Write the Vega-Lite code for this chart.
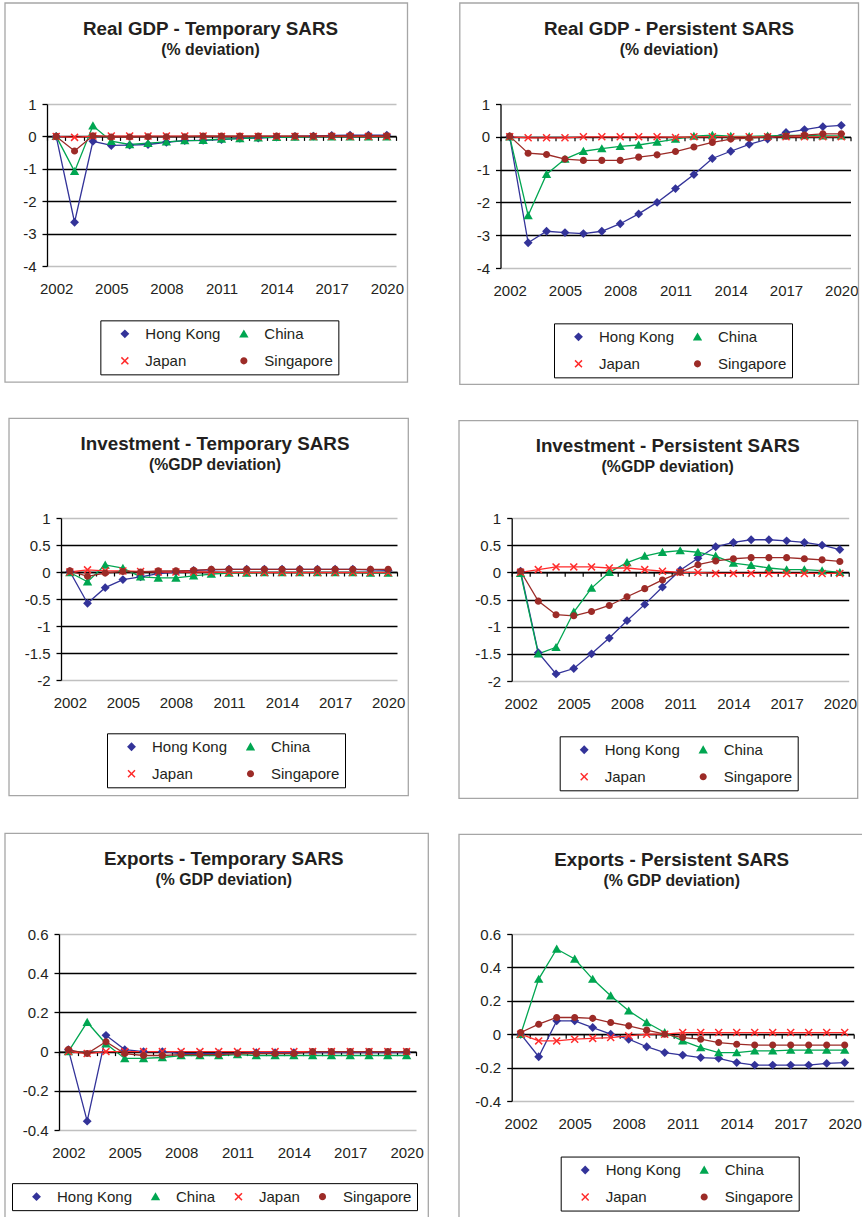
{
"$schema": "https://vega.github.io/schema/vega-lite/v6.json",
"background": "white",
"padding": {"left": 0, "top": 2, "right": 0, "bottom": 0},
"autosize": {"type": "pad"},
"config": {
  "view": {"stroke": null},
  "axis": {"labelFont": "Liberation Sans", "labelFontSize": 15, "labelColor": "#231f20"},
  "legend": {"symbolSize": 97, "symbolOffset": 12, "labelOffset": 13, "clipHeight": 17, "rowPadding": 10, "columnPadding": 3, "padding": 5, "labelFontSize": 15, "labelFont": "Liberation Sans", "labelColor": "#231f20", "strokeColor": "#000", "symbolOpacity": 1, "symbolStrokeWidth": 0, "direction": "horizontal"},
  "title": {"font": "Liberation Sans", "fontSize": 18.8, "fontWeight": "bold", "color": "#231f20", "subtitleFont": "Liberation Sans", "subtitleFontSize": 15.8, "subtitleFontWeight": "bold", "subtitleColor": "#231f20", "subtitlePadding": 4, "anchor": "middle", "frame": "group", "offset": -55}
},
"datasets": {
"gdpT": [
{"year":2002,"country":"Hong Kong","value":0},{"year":2003,"country":"Hong Kong","value":-2.65},{"year":2004,"country":"Hong Kong","value":-0.15},{"year":2005,"country":"Hong Kong","value":-0.28},{"year":2006,"country":"Hong Kong","value":-0.27},{"year":2007,"country":"Hong Kong","value":-0.25},{"year":2008,"country":"Hong Kong","value":-0.18},{"year":2009,"country":"Hong Kong","value":-0.13},{"year":2010,"country":"Hong Kong","value":-0.12},{"year":2011,"country":"Hong Kong","value":-0.1},{"year":2012,"country":"Hong Kong","value":-0.06},{"year":2013,"country":"Hong Kong","value":-0.05},{"year":2014,"country":"Hong Kong","value":-0.02},{"year":2015,"country":"Hong Kong","value":0},{"year":2016,"country":"Hong Kong","value":0.01},{"year":2017,"country":"Hong Kong","value":0.03},{"year":2018,"country":"Hong Kong","value":0.04},{"year":2019,"country":"Hong Kong","value":0.04},{"year":2020,"country":"Hong Kong","value":0.04},
{"year":2002,"country":"China","value":0},{"year":2003,"country":"China","value":-1.08},{"year":2004,"country":"China","value":0.33},{"year":2005,"country":"China","value":-0.15},{"year":2006,"country":"China","value":-0.25},{"year":2007,"country":"China","value":-0.21},{"year":2008,"country":"China","value":-0.17},{"year":2009,"country":"China","value":-0.13},{"year":2010,"country":"China","value":-0.12},{"year":2011,"country":"China","value":-0.08},{"year":2012,"country":"China","value":-0.07},{"year":2013,"country":"China","value":-0.04},{"year":2014,"country":"China","value":-0.03},{"year":2015,"country":"China","value":-0.02},{"year":2016,"country":"China","value":-0.01},{"year":2017,"country":"China","value":-0.01},{"year":2018,"country":"China","value":-0.01},{"year":2019,"country":"China","value":-0.01},{"year":2020,"country":"China","value":-0.01},
{"year":2002,"country":"Japan","value":0},{"year":2003,"country":"Japan","value":-0.03},{"year":2004,"country":"Japan","value":0.01},{"year":2005,"country":"Japan","value":0.01},{"year":2006,"country":"Japan","value":0.01},{"year":2007,"country":"Japan","value":0.01},{"year":2008,"country":"Japan","value":0.01},{"year":2009,"country":"Japan","value":0.01},{"year":2010,"country":"Japan","value":0.01},{"year":2011,"country":"Japan","value":0},{"year":2012,"country":"Japan","value":0},{"year":2013,"country":"Japan","value":0},{"year":2014,"country":"Japan","value":0},{"year":2015,"country":"Japan","value":0},{"year":2016,"country":"Japan","value":0},{"year":2017,"country":"Japan","value":0},{"year":2018,"country":"Japan","value":0},{"year":2019,"country":"Japan","value":0},{"year":2020,"country":"Japan","value":0},
{"year":2002,"country":"Singapore","value":0},{"year":2003,"country":"Singapore","value":-0.45},{"year":2004,"country":"Singapore","value":0.02},{"year":2005,"country":"Singapore","value":-0.02},{"year":2006,"country":"Singapore","value":-0.02},{"year":2007,"country":"Singapore","value":-0.01},{"year":2008,"country":"Singapore","value":-0.01},{"year":2009,"country":"Singapore","value":-0.01},{"year":2010,"country":"Singapore","value":0.01},{"year":2011,"country":"Singapore","value":0.01},{"year":2012,"country":"Singapore","value":0.01},{"year":2013,"country":"Singapore","value":0.01},{"year":2014,"country":"Singapore","value":0.01},{"year":2015,"country":"Singapore","value":0.01},{"year":2016,"country":"Singapore","value":0.01},{"year":2017,"country":"Singapore","value":0.02},{"year":2018,"country":"Singapore","value":0.02},{"year":2019,"country":"Singapore","value":0.02},{"year":2020,"country":"Singapore","value":0.02}
],
"gdpP": [
{"year":2002,"country":"Hong Kong","value":0},{"year":2003,"country":"Hong Kong","value":-3.23},{"year":2004,"country":"Hong Kong","value":-2.88},{"year":2005,"country":"Hong Kong","value":-2.92},{"year":2006,"country":"Hong Kong","value":-2.95},{"year":2007,"country":"Hong Kong","value":-2.88},{"year":2008,"country":"Hong Kong","value":-2.65},{"year":2009,"country":"Hong Kong","value":-2.35},{"year":2010,"country":"Hong Kong","value":-2.0},{"year":2011,"country":"Hong Kong","value":-1.58},{"year":2012,"country":"Hong Kong","value":-1.15},{"year":2013,"country":"Hong Kong","value":-0.66},{"year":2014,"country":"Hong Kong","value":-0.44},{"year":2015,"country":"Hong Kong","value":-0.23},{"year":2016,"country":"Hong Kong","value":-0.07},{"year":2017,"country":"Hong Kong","value":0.13},{"year":2018,"country":"Hong Kong","value":0.22},{"year":2019,"country":"Hong Kong","value":0.31},{"year":2020,"country":"Hong Kong","value":0.35},
{"year":2002,"country":"China","value":0},{"year":2003,"country":"China","value":-2.4},{"year":2004,"country":"China","value":-1.14},{"year":2005,"country":"China","value":-0.68},{"year":2006,"country":"China","value":-0.44},{"year":2007,"country":"China","value":-0.36},{"year":2008,"country":"China","value":-0.29},{"year":2009,"country":"China","value":-0.25},{"year":2010,"country":"China","value":-0.16},{"year":2011,"country":"China","value":-0.07},{"year":2012,"country":"China","value":0.02},{"year":2013,"country":"China","value":0.05},{"year":2014,"country":"China","value":0.02},{"year":2015,"country":"China","value":0.01},{"year":2016,"country":"China","value":0.03},{"year":2017,"country":"China","value":0.04},{"year":2018,"country":"China","value":0.04},{"year":2019,"country":"China","value":0.03},{"year":2020,"country":"China","value":0.03},
{"year":2002,"country":"Japan","value":0},{"year":2003,"country":"Japan","value":-0.03},{"year":2004,"country":"Japan","value":-0.03},{"year":2005,"country":"Japan","value":-0.03},{"year":2006,"country":"Japan","value":0},{"year":2007,"country":"Japan","value":0},{"year":2008,"country":"Japan","value":0},{"year":2009,"country":"Japan","value":0},{"year":2010,"country":"Japan","value":0},{"year":2011,"country":"Japan","value":-0.02},{"year":2012,"country":"Japan","value":0},{"year":2013,"country":"Japan","value":0},{"year":2014,"country":"Japan","value":0},{"year":2015,"country":"Japan","value":0},{"year":2016,"country":"Japan","value":0},{"year":2017,"country":"Japan","value":0},{"year":2018,"country":"Japan","value":0},{"year":2019,"country":"Japan","value":0},{"year":2020,"country":"Japan","value":0},
{"year":2002,"country":"Singapore","value":0.02},{"year":2003,"country":"Singapore","value":-0.5},{"year":2004,"country":"Singapore","value":-0.54},{"year":2005,"country":"Singapore","value":-0.68},{"year":2006,"country":"Singapore","value":-0.72},{"year":2007,"country":"Singapore","value":-0.72},{"year":2008,"country":"Singapore","value":-0.72},{"year":2009,"country":"Singapore","value":-0.62},{"year":2010,"country":"Singapore","value":-0.55},{"year":2011,"country":"Singapore","value":-0.45},{"year":2012,"country":"Singapore","value":-0.31},{"year":2013,"country":"Singapore","value":-0.17},{"year":2014,"country":"Singapore","value":-0.07},{"year":2015,"country":"Singapore","value":-0.04},{"year":2016,"country":"Singapore","value":0},{"year":2017,"country":"Singapore","value":0.02},{"year":2018,"country":"Singapore","value":0.05},{"year":2019,"country":"Singapore","value":0.09},{"year":2020,"country":"Singapore","value":0.09}
],
"invT": [
{"year":2002,"country":"Hong Kong","value":0.01},{"year":2003,"country":"Hong Kong","value":-0.58},{"year":2004,"country":"Hong Kong","value":-0.29},{"year":2005,"country":"Hong Kong","value":-0.14},{"year":2006,"country":"Hong Kong","value":-0.09},{"year":2007,"country":"Hong Kong","value":-0.03},{"year":2008,"country":"Hong Kong","value":0},{"year":2009,"country":"Hong Kong","value":0.03},{"year":2010,"country":"Hong Kong","value":0.04},{"year":2011,"country":"Hong Kong","value":0.05},{"year":2012,"country":"Hong Kong","value":0.05},{"year":2013,"country":"Hong Kong","value":0.05},{"year":2014,"country":"Hong Kong","value":0.05},{"year":2015,"country":"Hong Kong","value":0.05},{"year":2016,"country":"Hong Kong","value":0.05},{"year":2017,"country":"Hong Kong","value":0.05},{"year":2018,"country":"Hong Kong","value":0.05},{"year":2019,"country":"Hong Kong","value":0.04},{"year":2020,"country":"Hong Kong","value":0.03},
{"year":2002,"country":"China","value":-0.01},{"year":2003,"country":"China","value":-0.18},{"year":2004,"country":"China","value":0.13},{"year":2005,"country":"China","value":0.07},{"year":2006,"country":"China","value":-0.09},{"year":2007,"country":"China","value":-0.11},{"year":2008,"country":"China","value":-0.11},{"year":2009,"country":"China","value":-0.07},{"year":2010,"country":"China","value":-0.04},{"year":2011,"country":"China","value":-0.02},{"year":2012,"country":"China","value":-0.02},{"year":2013,"country":"China","value":-0.01},{"year":2014,"country":"China","value":-0.01},{"year":2015,"country":"China","value":-0.01},{"year":2016,"country":"China","value":-0.01},{"year":2017,"country":"China","value":-0.01},{"year":2018,"country":"China","value":-0.01},{"year":2019,"country":"China","value":-0.02},{"year":2020,"country":"China","value":-0.02},
{"year":2002,"country":"Japan","value":0},{"year":2003,"country":"Japan","value":0.04},{"year":2004,"country":"Japan","value":0.02},{"year":2005,"country":"Japan","value":0.02},{"year":2006,"country":"Japan","value":0.01},{"year":2007,"country":"Japan","value":0},{"year":2008,"country":"Japan","value":0},{"year":2009,"country":"Japan","value":0},{"year":2010,"country":"Japan","value":0},{"year":2011,"country":"Japan","value":-0.01},{"year":2012,"country":"Japan","value":-0.01},{"year":2013,"country":"Japan","value":-0.01},{"year":2014,"country":"Japan","value":-0.01},{"year":2015,"country":"Japan","value":-0.01},{"year":2016,"country":"Japan","value":-0.01},{"year":2017,"country":"Japan","value":-0.01},{"year":2018,"country":"Japan","value":-0.01},{"year":2019,"country":"Japan","value":-0.01},{"year":2020,"country":"Japan","value":-0.01},
{"year":2002,"country":"Singapore","value":0.02},{"year":2003,"country":"Singapore","value":-0.08},{"year":2004,"country":"Singapore","value":-0.02},{"year":2005,"country":"Singapore","value":0.01},{"year":2006,"country":"Singapore","value":0},{"year":2007,"country":"Singapore","value":0.02},{"year":2008,"country":"Singapore","value":0.02},{"year":2009,"country":"Singapore","value":0.03},{"year":2010,"country":"Singapore","value":0.05},{"year":2011,"country":"Singapore","value":0.05},{"year":2012,"country":"Singapore","value":0.05},{"year":2013,"country":"Singapore","value":0.05},{"year":2014,"country":"Singapore","value":0.05},{"year":2015,"country":"Singapore","value":0.05},{"year":2016,"country":"Singapore","value":0.05},{"year":2017,"country":"Singapore","value":0.05},{"year":2018,"country":"Singapore","value":0.05},{"year":2019,"country":"Singapore","value":0.05},{"year":2020,"country":"Singapore","value":0.05}
],
"invP": [
{"year":2002,"country":"Hong Kong","value":0.02},{"year":2003,"country":"Hong Kong","value":-1.48},{"year":2004,"country":"Hong Kong","value":-1.87},{"year":2005,"country":"Hong Kong","value":-1.77},{"year":2006,"country":"Hong Kong","value":-1.5},{"year":2007,"country":"Hong Kong","value":-1.21},{"year":2008,"country":"Hong Kong","value":-0.89},{"year":2009,"country":"Hong Kong","value":-0.59},{"year":2010,"country":"Hong Kong","value":-0.27},{"year":2011,"country":"Hong Kong","value":0.04},{"year":2012,"country":"Hong Kong","value":0.26},{"year":2013,"country":"Hong Kong","value":0.47},{"year":2014,"country":"Hong Kong","value":0.55},{"year":2015,"country":"Hong Kong","value":0.6},{"year":2016,"country":"Hong Kong","value":0.6},{"year":2017,"country":"Hong Kong","value":0.58},{"year":2018,"country":"Hong Kong","value":0.55},{"year":2019,"country":"Hong Kong","value":0.5},{"year":2020,"country":"Hong Kong","value":0.42},
{"year":2002,"country":"China","value":-0.02},{"year":2003,"country":"China","value":-1.5},{"year":2004,"country":"China","value":-1.38},{"year":2005,"country":"China","value":-0.73},{"year":2006,"country":"China","value":-0.29},{"year":2007,"country":"China","value":0},{"year":2008,"country":"China","value":0.18},{"year":2009,"country":"China","value":0.3},{"year":2010,"country":"China","value":0.37},{"year":2011,"country":"China","value":0.4},{"year":2012,"country":"China","value":0.37},{"year":2013,"country":"China","value":0.3},{"year":2014,"country":"China","value":0.17},{"year":2015,"country":"China","value":0.13},{"year":2016,"country":"China","value":0.08},{"year":2017,"country":"China","value":0.05},{"year":2018,"country":"China","value":0.05},{"year":2019,"country":"China","value":0.03},{"year":2020,"country":"China","value":0},
{"year":2002,"country":"Japan","value":0},{"year":2003,"country":"Japan","value":0.05},{"year":2004,"country":"Japan","value":0.1},{"year":2005,"country":"Japan","value":0.1},{"year":2006,"country":"Japan","value":0.1},{"year":2007,"country":"Japan","value":0.08},{"year":2008,"country":"Japan","value":0.08},{"year":2009,"country":"Japan","value":0.05},{"year":2010,"country":"Japan","value":0.02},{"year":2011,"country":"Japan","value":0},{"year":2012,"country":"Japan","value":0},{"year":2013,"country":"Japan","value":-0.02},{"year":2014,"country":"Japan","value":-0.02},{"year":2015,"country":"Japan","value":-0.02},{"year":2016,"country":"Japan","value":-0.02},{"year":2017,"country":"Japan","value":-0.02},{"year":2018,"country":"Japan","value":-0.02},{"year":2019,"country":"Japan","value":-0.02},{"year":2020,"country":"Japan","value":-0.02},
{"year":2002,"country":"Singapore","value":0.02},{"year":2003,"country":"Singapore","value":-0.53},{"year":2004,"country":"Singapore","value":-0.78},{"year":2005,"country":"Singapore","value":-0.8},{"year":2006,"country":"Singapore","value":-0.72},{"year":2007,"country":"Singapore","value":-0.61},{"year":2008,"country":"Singapore","value":-0.45},{"year":2009,"country":"Singapore","value":-0.3},{"year":2010,"country":"Singapore","value":-0.14},{"year":2011,"country":"Singapore","value":0},{"year":2012,"country":"Singapore","value":0.14},{"year":2013,"country":"Singapore","value":0.21},{"year":2014,"country":"Singapore","value":0.25},{"year":2015,"country":"Singapore","value":0.27},{"year":2016,"country":"Singapore","value":0.27},{"year":2017,"country":"Singapore","value":0.27},{"year":2018,"country":"Singapore","value":0.25},{"year":2019,"country":"Singapore","value":0.23},{"year":2020,"country":"Singapore","value":0.2}
],
"expT": [
{"year":2002,"country":"Hong Kong","value":0.01},{"year":2003,"country":"Hong Kong","value":-0.355},{"year":2004,"country":"Hong Kong","value":0.083},{"year":2005,"country":"Hong Kong","value":0.01},{"year":2006,"country":"Hong Kong","value":0},{"year":2007,"country":"Hong Kong","value":0},{"year":2008,"country":"Hong Kong","value":-0.01},{"year":2009,"country":"Hong Kong","value":-0.01},{"year":2010,"country":"Hong Kong","value":-0.01},{"year":2011,"country":"Hong Kong","value":-0.01},{"year":2012,"country":"Hong Kong","value":-0.005},{"year":2013,"country":"Hong Kong","value":-0.005},{"year":2014,"country":"Hong Kong","value":-0.005},{"year":2015,"country":"Hong Kong","value":-0.005},{"year":2016,"country":"Hong Kong","value":-0.005},{"year":2017,"country":"Hong Kong","value":-0.005},{"year":2018,"country":"Hong Kong","value":-0.005},{"year":2019,"country":"Hong Kong","value":-0.005},{"year":2020,"country":"Hong Kong","value":-0.005},
{"year":2002,"country":"China","value":0},{"year":2003,"country":"China","value":0.15},{"year":2004,"country":"China","value":0.04},{"year":2005,"country":"China","value":-0.035},{"year":2006,"country":"China","value":-0.035},{"year":2007,"country":"China","value":-0.03},{"year":2008,"country":"China","value":-0.02},{"year":2009,"country":"China","value":-0.02},{"year":2010,"country":"China","value":-0.02},{"year":2011,"country":"China","value":-0.015},{"year":2012,"country":"China","value":-0.02},{"year":2013,"country":"China","value":-0.02},{"year":2014,"country":"China","value":-0.02},{"year":2015,"country":"China","value":-0.02},{"year":2016,"country":"China","value":-0.02},{"year":2017,"country":"China","value":-0.02},{"year":2018,"country":"China","value":-0.02},{"year":2019,"country":"China","value":-0.02},{"year":2020,"country":"China","value":-0.02},
{"year":2002,"country":"Japan","value":0},{"year":2003,"country":"Japan","value":-0.01},{"year":2004,"country":"Japan","value":0},{"year":2005,"country":"Japan","value":0},{"year":2006,"country":"Japan","value":0},{"year":2007,"country":"Japan","value":0},{"year":2008,"country":"Japan","value":0},{"year":2009,"country":"Japan","value":0},{"year":2010,"country":"Japan","value":0},{"year":2011,"country":"Japan","value":0},{"year":2012,"country":"Japan","value":0},{"year":2013,"country":"Japan","value":0},{"year":2014,"country":"Japan","value":0},{"year":2015,"country":"Japan","value":0},{"year":2016,"country":"Japan","value":0},{"year":2017,"country":"Japan","value":0},{"year":2018,"country":"Japan","value":0},{"year":2019,"country":"Japan","value":0},{"year":2020,"country":"Japan","value":0},
{"year":2002,"country":"Singapore","value":0.01},{"year":2003,"country":"Singapore","value":-0.01},{"year":2004,"country":"Singapore","value":0.05},{"year":2005,"country":"Singapore","value":-0.01},{"year":2006,"country":"Singapore","value":-0.02},{"year":2007,"country":"Singapore","value":-0.02},{"year":2008,"country":"Singapore","value":-0.015},{"year":2009,"country":"Singapore","value":-0.015},{"year":2010,"country":"Singapore","value":-0.015},{"year":2011,"country":"Singapore","value":-0.01},{"year":2012,"country":"Singapore","value":-0.01},{"year":2013,"country":"Singapore","value":-0.01},{"year":2014,"country":"Singapore","value":-0.01},{"year":2015,"country":"Singapore","value":0},{"year":2016,"country":"Singapore","value":0},{"year":2017,"country":"Singapore","value":0},{"year":2018,"country":"Singapore","value":0},{"year":2019,"country":"Singapore","value":0},{"year":2020,"country":"Singapore","value":0}
],
"expP": [
{"year":2002,"country":"Hong Kong","value":0},{"year":2003,"country":"Hong Kong","value":-0.135},{"year":2004,"country":"Hong Kong","value":0.08},{"year":2005,"country":"Hong Kong","value":0.08},{"year":2006,"country":"Hong Kong","value":0.04},{"year":2007,"country":"Hong Kong","value":0},{"year":2008,"country":"Hong Kong","value":-0.03},{"year":2009,"country":"Hong Kong","value":-0.075},{"year":2010,"country":"Hong Kong","value":-0.11},{"year":2011,"country":"Hong Kong","value":-0.125},{"year":2012,"country":"Hong Kong","value":-0.14},{"year":2013,"country":"Hong Kong","value":-0.145},{"year":2014,"country":"Hong Kong","value":-0.17},{"year":2015,"country":"Hong Kong","value":-0.185},{"year":2016,"country":"Hong Kong","value":-0.185},{"year":2017,"country":"Hong Kong","value":-0.185},{"year":2018,"country":"Hong Kong","value":-0.185},{"year":2019,"country":"Hong Kong","value":-0.175},{"year":2020,"country":"Hong Kong","value":-0.17},
{"year":2002,"country":"China","value":0},{"year":2003,"country":"China","value":0.33},{"year":2004,"country":"China","value":0.51},{"year":2005,"country":"China","value":0.45},{"year":2006,"country":"China","value":0.33},{"year":2007,"country":"China","value":0.23},{"year":2008,"country":"China","value":0.14},{"year":2009,"country":"China","value":0.07},{"year":2010,"country":"China","value":0.01},{"year":2011,"country":"China","value":-0.04},{"year":2012,"country":"China","value":-0.08},{"year":2013,"country":"China","value":-0.11},{"year":2014,"country":"China","value":-0.11},{"year":2015,"country":"China","value":-0.1},{"year":2016,"country":"China","value":-0.1},{"year":2017,"country":"China","value":-0.095},{"year":2018,"country":"China","value":-0.095},{"year":2019,"country":"China","value":-0.095},{"year":2020,"country":"China","value":-0.095},
{"year":2002,"country":"Japan","value":0},{"year":2003,"country":"Japan","value":-0.04},{"year":2004,"country":"Japan","value":-0.04},{"year":2005,"country":"Japan","value":-0.03},{"year":2006,"country":"Japan","value":-0.025},{"year":2007,"country":"Japan","value":-0.02},{"year":2008,"country":"Japan","value":-0.01},{"year":2009,"country":"Japan","value":0},{"year":2010,"country":"Japan","value":0},{"year":2011,"country":"Japan","value":0.01},{"year":2012,"country":"Japan","value":0.01},{"year":2013,"country":"Japan","value":0.01},{"year":2014,"country":"Japan","value":0.01},{"year":2015,"country":"Japan","value":0.01},{"year":2016,"country":"Japan","value":0.01},{"year":2017,"country":"Japan","value":0.01},{"year":2018,"country":"Japan","value":0.01},{"year":2019,"country":"Japan","value":0.01},{"year":2020,"country":"Japan","value":0.01},
{"year":2002,"country":"Singapore","value":0.01},{"year":2003,"country":"Singapore","value":0.06},{"year":2004,"country":"Singapore","value":0.1},{"year":2005,"country":"Singapore","value":0.1},{"year":2006,"country":"Singapore","value":0.095},{"year":2007,"country":"Singapore","value":0.07},{"year":2008,"country":"Singapore","value":0.05},{"year":2009,"country":"Singapore","value":0.025},{"year":2010,"country":"Singapore","value":0},{"year":2011,"country":"Singapore","value":-0.02},{"year":2012,"country":"Singapore","value":-0.03},{"year":2013,"country":"Singapore","value":-0.05},{"year":2014,"country":"Singapore","value":-0.06},{"year":2015,"country":"Singapore","value":-0.065},{"year":2016,"country":"Singapore","value":-0.065},{"year":2017,"country":"Singapore","value":-0.065},{"year":2018,"country":"Singapore","value":-0.065},{"year":2019,"country":"Singapore","value":-0.065},{"year":2020,"country":"Singapore","value":-0.065}
]
},
"spacing": 32,
"resolve": {"scale": {"color": "independent", "shape": "independent"}, "legend": {"color": "independent", "shape": "independent"}},
"vconcat": [
{
"spacing": 0,
"resolve": {"scale": {"color": "independent", "shape": "independent"}, "legend": {"color": "independent", "shape": "independent"}},
"hconcat": [
{"width": 4, "height": 10, "data": {"values": []}, "mark": "point", "encoding": {}},
{
"spacing": 49.5,
"resolve": {"scale": {"color": "independent", "shape": "independent"}, "legend": {"color": "independent", "shape": "independent"}},
"hconcat": [
{
"width": 349, "height": 162,
"title": {"text": "Real GDP - Temporary SARS", "subtitle": "(% deviation)", "dx": -11},
"data": {"name": "gdpT"},
"resolve": {"axis": {"x": "independent", "y": "independent"}},
"layer": [
{"data": {"values": [{}]}, "mark": {"type": "rect", "filled": false, "stroke": "#a6a6a6", "strokeWidth": 1.3},
"encoding": {"x": {"datum": 1999.213, "type": "quantitative", "scale": {"domain": [2001.5, 2020.5], "nice": false, "zero": false}, "axis": null}, "x2": {"datum": 2021.126},
"y": {"datum": 4.117, "type": "quantitative", "scale": {"domain": [-4, 1], "nice": false, "zero": false}, "axis": {"orient": "left", "values": [-4, 1], "grid": true, "gridColor": "#c0c0c0", "gridWidth": 1.3, "labels": false, "ticks": false, "domain": false, "title": null}}, "y2": {"datum": -7.582}}},
{"mark": {"type": "line", "strokeWidth": 1.3},
"encoding": {
"x": {"field": "year", "type": "quantitative", "scale": {"domain": [2001.5, 2020.5], "nice": false, "zero": false}, "axis": {"orient": "bottom", "values": [2002, 2005, 2008, 2011, 2014, 2017, 2020], "labelExpr": "datum.value + ''", "ticks": false, "tickSize": 0, "domain": false, "grid": false, "labelPadding": 15, "title": null, "labelFlush": false, "labelOverlap": false}},
"y": {"field": "value", "type": "quantitative", "scale": {"domain": [-4, 1], "nice": false, "zero": false}, "axis": {"orient": "left", "values": [-4, -3, -2, -1, 0, 1], "labelExpr": "datum.value + ''", "domain": true, "domainColor": "#000", "domainWidth": 1.3, "ticks": true, "tickColor": "#000", "tickWidth": 1.3, "tickSize": 5, "grid": false, "labelPadding": 6, "title": null}},
"color": {"field": "country", "type": "nominal", "scale": {"domain": ["Hong Kong", "China", "Japan", "Singapore"], "range": ["#333399", "#00a651", "#ff2b2b", "#9c2b27"]},
"legend": {"orient": "none", "legendX": 53.35, "legendY": 216.35, "title": null, "columns": 2}}
}},
{"mark": {"type": "point", "filled": true, "opacity": 1, "size": 97},
"encoding": {
"x": {"field": "year", "type": "quantitative", "scale": {"domain": [2001.5, 2020.5], "nice": false, "zero": false}, "axis": {"orient": "bottom", "offset": -129.6, "values": [2001.5, 2002.5, 2003.5, 2004.5, 2005.5, 2006.5, 2007.5, 2008.5, 2009.5, 2010.5, 2011.5, 2012.5, 2013.5, 2014.5, 2015.5, 2016.5, 2017.5, 2018.5, 2019.5, 2020.5], "labels": false, "ticks": true, "tickSize": 4, "tickColor": "#000", "tickWidth": 1.2, "domain": true, "domainColor": "#000", "domainWidth": 1.3, "grid": false, "title": null}},
"y": {"field": "value", "type": "quantitative", "scale": {"domain": [-4, 1], "nice": false, "zero": false}, "axis": {"orient": "left", "values": [-3, -2, -1, 0], "grid": true, "gridColor": "#000", "gridWidth": 1.3, "labels": false, "ticks": false, "domain": false, "title": null}},
"color": {"field": "country", "type": "nominal", "scale": {"domain": ["Hong Kong", "China", "Japan", "Singapore"], "range": ["#333399", "#00a651", "#ff2b2b", "#9c2b27"]}},
"shape": {"field": "country", "type": "nominal", "scale": {"domain": ["Hong Kong", "China", "Japan", "Singapore"], "range": ["M0,-0.9L0.9,0L0,0.9L-0.9,0Z", "M0,-0.9L0.95,0.75L-0.95,0.75Z", "M-0.601,0.813L0,0.212L0.601,0.813L0.813,0.601L0.212,0L0.813,-0.601L0.601,-0.813L0,-0.212L-0.601,-0.813L-0.813,-0.601L-0.212,0L-0.813,0.601Z", "M0.72,0A0.72,0.72,0,1,1,-0.72,0A0.72,0.72,0,1,1,0.72,0Z"]}, "legend": null}
}}
]
},
{
"width": 350, "height": 164,
"title": {"text": "Real GDP - Persistent SARS", "subtitle": "(% deviation)", "dx": -6.5},
"data": {"name": "gdpP"},
"resolve": {"axis": {"x": "independent", "y": "independent"}},
"layer": [
{"data": {"values": [{}]}, "mark": {"type": "rect", "filled": false, "stroke": "#a6a6a6", "strokeWidth": 1.3},
"encoding": {"x": {"datum": 1999.291, "type": "quantitative", "scale": {"domain": [2001.5, 2020.5], "nice": false, "zero": false}, "axis": null}, "x2": {"datum": 2020.934},
"y": {"datum": 4.079, "type": "quantitative", "scale": {"domain": [-4, 1], "nice": false, "zero": false}, "axis": {"orient": "left", "values": [-4, 1], "grid": true, "gridColor": "#c0c0c0", "gridWidth": 1.3, "labels": false, "ticks": false, "domain": false, "title": null}}, "y2": {"datum": -7.547}}},
{"mark": {"type": "line", "strokeWidth": 1.3},
"encoding": {
"x": {"field": "year", "type": "quantitative", "scale": {"domain": [2001.5, 2020.5], "nice": false, "zero": false}, "axis": {"orient": "bottom", "values": [2002, 2005, 2008, 2011, 2014, 2017, 2020], "labelExpr": "datum.value + ''", "ticks": false, "tickSize": 0, "domain": false, "grid": false, "labelPadding": 15, "title": null, "labelFlush": false, "labelOverlap": false}},
"y": {"field": "value", "type": "quantitative", "scale": {"domain": [-4, 1], "nice": false, "zero": false}, "axis": {"orient": "left", "values": [-4, -3, -2, -1, 0, 1], "labelExpr": "datum.value + ''", "domain": true, "domainColor": "#000", "domainWidth": 1.3, "ticks": true, "tickColor": "#000", "tickWidth": 1.3, "tickSize": 5, "grid": false, "labelPadding": 6, "title": null}},
"color": {"field": "country", "type": "nominal", "scale": {"domain": ["Hong Kong", "China", "Japan", "Singapore"], "range": ["#333399", "#00a651", "#ff2b2b", "#9c2b27"]},
"legend": {"orient": "none", "legendX": 53.5, "legendY": 219.35, "title": null, "columns": 2}}
}},
{"mark": {"type": "point", "filled": true, "opacity": 1, "size": 97},
"encoding": {
"x": {"field": "year", "type": "quantitative", "scale": {"domain": [2001.5, 2020.5], "nice": false, "zero": false}, "axis": {"orient": "bottom", "offset": -131.2, "values": [2001.5, 2002.5, 2003.5, 2004.5, 2005.5, 2006.5, 2007.5, 2008.5, 2009.5, 2010.5, 2011.5, 2012.5, 2013.5, 2014.5, 2015.5, 2016.5, 2017.5, 2018.5, 2019.5, 2020.5], "labels": false, "ticks": true, "tickSize": 4, "tickColor": "#000", "tickWidth": 1.2, "domain": true, "domainColor": "#000", "domainWidth": 1.3, "grid": false, "title": null}},
"y": {"field": "value", "type": "quantitative", "scale": {"domain": [-4, 1], "nice": false, "zero": false}, "axis": {"orient": "left", "values": [-3, -2, -1, 0], "grid": true, "gridColor": "#000", "gridWidth": 1.3, "labels": false, "ticks": false, "domain": false, "title": null}},
"color": {"field": "country", "type": "nominal", "scale": {"domain": ["Hong Kong", "China", "Japan", "Singapore"], "range": ["#333399", "#00a651", "#ff2b2b", "#9c2b27"]}},
"shape": {"field": "country", "type": "nominal", "scale": {"domain": ["Hong Kong", "China", "Japan", "Singapore"], "range": ["M0,-0.9L0.9,0L0,0.9L-0.9,0Z", "M0,-0.9L0.95,0.75L-0.95,0.75Z", "M-0.601,0.813L0,0.212L0.601,0.813L0.813,0.601L0.212,0L0.813,-0.601L0.601,-0.813L0,-0.212L-0.601,-0.813L-0.813,-0.601L-0.212,0L-0.813,0.601Z", "M0.72,0A0.72,0.72,0,1,1,-0.72,0A0.72,0.72,0,1,1,0.72,0Z"]}, "legend": null}
}}
]
}
]
}
]
},
{
"spacing": 0,
"resolve": {"scale": {"color": "independent", "shape": "independent"}, "legend": {"color": "independent", "shape": "independent"}},
"hconcat": [
{"width": 8, "height": 10, "data": {"values": []}, "mark": "point", "encoding": {}},
{
"spacing": 48.7,
"resolve": {"scale": {"color": "independent", "shape": "independent"}, "legend": {"color": "independent", "shape": "independent"}},
"hconcat": [
{
"width": 336, "height": 162,
"title": {"text": "Investment - Temporary SARS", "subtitle": "(%GDP deviation)", "dx": -14},
"data": {"name": "invT"},
"resolve": {"axis": {"x": "independent", "y": "independent"}},
"layer": [
{"data": {"values": [{}]}, "mark": {"type": "rect", "filled": false, "stroke": "#a6a6a6", "strokeWidth": 1.3},
"encoding": {"x": {"datum": 1998.56, "type": "quantitative", "scale": {"domain": [2001.5, 2020.5], "nice": false, "zero": false}, "axis": null}, "x2": {"datum": 2021.139},
"y": {"datum": 2.846, "type": "quantitative", "scale": {"domain": [-2, 1], "nice": false, "zero": false}, "axis": {"orient": "left", "values": [-2, 1], "grid": true, "gridColor": "#c0c0c0", "gridWidth": 1.3, "labels": false, "ticks": false, "domain": false, "title": null}}, "y2": {"datum": -4.143}}},
{"mark": {"type": "line", "strokeWidth": 1.3},
"encoding": {
"x": {"field": "year", "type": "quantitative", "scale": {"domain": [2001.5, 2020.5], "nice": false, "zero": false}, "axis": {"orient": "bottom", "values": [2002, 2005, 2008, 2011, 2014, 2017, 2020], "labelExpr": "datum.value + ''", "ticks": false, "tickSize": 0, "domain": false, "grid": false, "labelPadding": 15, "title": null, "labelFlush": false, "labelOverlap": false}},
"y": {"field": "value", "type": "quantitative", "scale": {"domain": [-2, 1], "nice": false, "zero": false}, "axis": {"orient": "left", "values": [-2, -1.5, -1, -0.5, 0, 0.5, 1], "labelExpr": "datum.value + ''", "domain": true, "domainColor": "#000", "domainWidth": 1.3, "ticks": true, "tickColor": "#000", "tickWidth": 1.3, "tickSize": 5, "grid": false, "labelPadding": 6, "title": null}},
"color": {"field": "country", "type": "nominal", "scale": {"domain": ["Hong Kong", "China", "Japan", "Singapore"], "range": ["#333399", "#00a651", "#ff2b2b", "#9c2b27"]},
"legend": {"orient": "none", "legendX": 46, "legendY": 215.3, "title": null, "columns": 2}}
}},
{"mark": {"type": "point", "filled": true, "opacity": 1, "size": 97},
"encoding": {
"x": {"field": "year", "type": "quantitative", "scale": {"domain": [2001.5, 2020.5], "nice": false, "zero": false}, "axis": {"orient": "bottom", "offset": -108, "values": [2001.5, 2002.5, 2003.5, 2004.5, 2005.5, 2006.5, 2007.5, 2008.5, 2009.5, 2010.5, 2011.5, 2012.5, 2013.5, 2014.5, 2015.5, 2016.5, 2017.5, 2018.5, 2019.5, 2020.5], "labels": false, "ticks": true, "tickSize": 4, "tickColor": "#000", "tickWidth": 1.2, "domain": true, "domainColor": "#000", "domainWidth": 1.3, "grid": false, "title": null}},
"y": {"field": "value", "type": "quantitative", "scale": {"domain": [-2, 1], "nice": false, "zero": false}, "axis": {"orient": "left", "values": [-1.5, -1, -0.5, 0, 0.5], "grid": true, "gridColor": "#000", "gridWidth": 1.3, "labels": false, "ticks": false, "domain": false, "title": null}},
"color": {"field": "country", "type": "nominal", "scale": {"domain": ["Hong Kong", "China", "Japan", "Singapore"], "range": ["#333399", "#00a651", "#ff2b2b", "#9c2b27"]}},
"shape": {"field": "country", "type": "nominal", "scale": {"domain": ["Hong Kong", "China", "Japan", "Singapore"], "range": ["M0,-0.9L0.9,0L0,0.9L-0.9,0Z", "M0,-0.9L0.95,0.75L-0.95,0.75Z", "M-0.601,0.813L0,0.212L0.601,0.813L0.813,0.601L0.212,0L0.813,-0.601L0.601,-0.813L0,-0.212L-0.601,-0.813L-0.813,-0.601L-0.212,0L-0.813,0.601Z", "M0.72,0A0.72,0.72,0,1,1,-0.72,0A0.72,0.72,0,1,1,0.72,0Z"]}, "legend": null}
}}
]
},
{
"width": 337, "height": 163,
"title": {"text": "Investment - Persistent SARS", "subtitle": "(%GDP deviation)", "dx": -12.5},
"data": {"name": "invP"},
"resolve": {"axis": {"x": "independent", "y": "independent"}},
"layer": [
{"data": {"values": [{}]}, "mark": {"type": "rect", "filled": false, "stroke": "#a6a6a6", "strokeWidth": 1.3},
"encoding": {"x": {"datum": 1998.529, "type": "quantitative", "scale": {"domain": [2001.5, 2020.5], "nice": false, "zero": false}, "axis": null}, "x2": {"datum": 2021.007},
"y": {"datum": 2.791, "type": "quantitative", "scale": {"domain": [-2, 1], "nice": false, "zero": false}, "axis": {"orient": "left", "values": [-2, 1], "grid": true, "gridColor": "#c0c0c0", "gridWidth": 1.3, "labels": false, "ticks": false, "domain": false, "title": null}}, "y2": {"datum": -4.16}}},
{"mark": {"type": "line", "strokeWidth": 1.3},
"encoding": {
"x": {"field": "year", "type": "quantitative", "scale": {"domain": [2001.5, 2020.5], "nice": false, "zero": false}, "axis": {"orient": "bottom", "values": [2002, 2005, 2008, 2011, 2014, 2017, 2020], "labelExpr": "datum.value + ''", "ticks": false, "tickSize": 0, "domain": false, "grid": false, "labelPadding": 15, "title": null, "labelFlush": false, "labelOverlap": false}},
"y": {"field": "value", "type": "quantitative", "scale": {"domain": [-2, 1], "nice": false, "zero": false}, "axis": {"orient": "left", "values": [-2, -1.5, -1, -0.5, 0, 0.5, 1], "labelExpr": "datum.value + ''", "domain": true, "domainColor": "#000", "domainWidth": 1.3, "ticks": true, "tickColor": "#000", "tickWidth": 1.3, "tickSize": 5, "grid": false, "labelPadding": 6, "title": null}},
"color": {"field": "country", "type": "nominal", "scale": {"domain": ["Hong Kong", "China", "Japan", "Singapore"], "range": ["#333399", "#00a651", "#ff2b2b", "#9c2b27"]},
"legend": {"orient": "none", "legendX": 48, "legendY": 218.3, "title": null, "columns": 2}}
}},
{"mark": {"type": "point", "filled": true, "opacity": 1, "size": 97},
"encoding": {
"x": {"field": "year", "type": "quantitative", "scale": {"domain": [2001.5, 2020.5], "nice": false, "zero": false}, "axis": {"orient": "bottom", "offset": -108.67, "values": [2001.5, 2002.5, 2003.5, 2004.5, 2005.5, 2006.5, 2007.5, 2008.5, 2009.5, 2010.5, 2011.5, 2012.5, 2013.5, 2014.5, 2015.5, 2016.5, 2017.5, 2018.5, 2019.5, 2020.5], "labels": false, "ticks": true, "tickSize": 4, "tickColor": "#000", "tickWidth": 1.2, "domain": true, "domainColor": "#000", "domainWidth": 1.3, "grid": false, "title": null}},
"y": {"field": "value", "type": "quantitative", "scale": {"domain": [-2, 1], "nice": false, "zero": false}, "axis": {"orient": "left", "values": [-1.5, -1, -0.5, 0, 0.5], "grid": true, "gridColor": "#000", "gridWidth": 1.3, "labels": false, "ticks": false, "domain": false, "title": null}},
"color": {"field": "country", "type": "nominal", "scale": {"domain": ["Hong Kong", "China", "Japan", "Singapore"], "range": ["#333399", "#00a651", "#ff2b2b", "#9c2b27"]}},
"shape": {"field": "country", "type": "nominal", "scale": {"domain": ["Hong Kong", "China", "Japan", "Singapore"], "range": ["M0,-0.9L0.9,0L0,0.9L-0.9,0Z", "M0,-0.9L0.95,0.75L-0.95,0.75Z", "M-0.601,0.813L0,0.212L0.601,0.813L0.813,0.601L0.212,0L0.813,-0.601L0.601,-0.813L0,-0.212L-0.601,-0.813L-0.813,-0.601L-0.212,0L-0.813,0.601Z", "M0.72,0A0.72,0.72,0,1,1,-0.72,0A0.72,0.72,0,1,1,0.72,0Z"]}, "legend": null}
}}
]
}
]
}
]
},
{
"spacing": 0,
"resolve": {"scale": {"color": "independent", "shape": "independent"}, "legend": {"color": "independent", "shape": "independent"}},
"hconcat": [
{"width": 4, "height": 10, "data": {"values": []}, "mark": "point", "encoding": {}},
{
"spacing": 28.7,
"resolve": {"scale": {"color": "independent", "shape": "independent"}, "legend": {"color": "independent", "shape": "independent"}},
"hconcat": [
{
"width": 357, "height": 196,
"title": {"text": "Exports - Temporary SARS", "subtitle": "(% GDP deviation)", "dx": -13.7},
"data": {"name": "expT"},
"resolve": {"axis": {"x": "independent", "y": "independent"}},
"layer": [
{"data": {"values": [{}]}, "mark": {"type": "rect", "filled": false, "stroke": "#a6a6a6", "strokeWidth": 1.3},
"encoding": {"x": {"datum": 1998.626, "type": "quantitative", "scale": {"domain": [2001.5, 2020.5], "nice": false, "zero": false}, "axis": null}, "x2": {"datum": 2021.155},
"y": {"datum": 1.113, "type": "quantitative", "scale": {"domain": [-0.4, 0.6], "nice": false, "zero": false}, "axis": {"orient": "left", "values": [-0.4, 0.6], "grid": true, "gridColor": "#c0c0c0", "gridWidth": 1.3, "labels": false, "ticks": false, "domain": false, "title": null}}, "y2": {"datum": -0.848}}},
{"mark": {"type": "line", "strokeWidth": 1.3},
"encoding": {
"x": {"field": "year", "type": "quantitative", "scale": {"domain": [2001.5, 2020.5], "nice": false, "zero": false}, "axis": {"orient": "bottom", "values": [2002, 2005, 2008, 2011, 2014, 2017, 2020], "labelExpr": "datum.value + ''", "ticks": false, "tickSize": 0, "domain": false, "grid": false, "labelPadding": 15, "title": null, "labelFlush": false, "labelOverlap": false}},
"y": {"field": "value", "type": "quantitative", "scale": {"domain": [-0.4, 0.6], "nice": false, "zero": false}, "axis": {"orient": "left", "values": [-0.4, -0.2, 0, 0.2, 0.4, 0.6], "labelExpr": "datum.value + ''", "domain": true, "domainColor": "#000", "domainWidth": 1.3, "ticks": true, "tickColor": "#000", "tickWidth": 1.3, "tickSize": 5, "grid": false, "labelPadding": 6, "title": null}},
"color": {"field": "country", "type": "nominal", "scale": {"domain": ["Hong Kong", "China", "Japan", "Singapore"], "range": ["#333399", "#00a651", "#ff2b2b", "#9c2b27"]},
"legend": {"orient": "none", "legendX": -47, "legendY": 249.15, "title": null, "columns": 4}}
}},
{"mark": {"type": "point", "filled": true, "opacity": 1, "size": 97},
"encoding": {
"x": {"field": "year", "type": "quantitative", "scale": {"domain": [2001.5, 2020.5], "nice": false, "zero": false}, "axis": {"orient": "bottom", "offset": -78.4, "values": [2001.5, 2002.5, 2003.5, 2004.5, 2005.5, 2006.5, 2007.5, 2008.5, 2009.5, 2010.5, 2011.5, 2012.5, 2013.5, 2014.5, 2015.5, 2016.5, 2017.5, 2018.5, 2019.5, 2020.5], "labels": false, "ticks": true, "tickSize": 4, "tickColor": "#000", "tickWidth": 1.2, "domain": true, "domainColor": "#000", "domainWidth": 1.3, "grid": false, "title": null}},
"y": {"field": "value", "type": "quantitative", "scale": {"domain": [-0.4, 0.6], "nice": false, "zero": false}, "axis": {"orient": "left", "values": [-0.2, 0, 0.2, 0.4], "grid": true, "gridColor": "#000", "gridWidth": 1.3, "labels": false, "ticks": false, "domain": false, "title": null}},
"color": {"field": "country", "type": "nominal", "scale": {"domain": ["Hong Kong", "China", "Japan", "Singapore"], "range": ["#333399", "#00a651", "#ff2b2b", "#9c2b27"]}},
"shape": {"field": "country", "type": "nominal", "scale": {"domain": ["Hong Kong", "China", "Japan", "Singapore"], "range": ["M0,-0.9L0.9,0L0,0.9L-0.9,0Z", "M0,-0.9L0.95,0.75L-0.95,0.75Z", "M-0.601,0.813L0,0.212L0.601,0.813L0.813,0.601L0.212,0L0.813,-0.601L0.601,-0.813L0,-0.212L-0.601,-0.813L-0.813,-0.601L-0.212,0L-0.813,0.601Z", "M0.72,0A0.72,0.72,0,1,1,-0.72,0A0.72,0.72,0,1,1,0.72,0Z"]}, "legend": null}
}}
]
},
{
"width": 342, "height": 167,
"title": {"text": "Exports - Persistent SARS", "subtitle": "(% GDP deviation)", "dx": -11},
"data": {"name": "expP"},
"resolve": {"axis": {"x": "independent", "y": "independent"}},
"layer": [
{"data": {"values": [{}]}, "mark": {"type": "rect", "filled": false, "stroke": "#a6a6a6", "strokeWidth": 1.3},
"encoding": {"x": {"datum": 1998.572, "type": "quantitative", "scale": {"domain": [2001.5, 2020.5], "nice": false, "zero": false}, "axis": null}, "x2": {"datum": 2021.056},
"y": {"datum": 1.196, "type": "quantitative", "scale": {"domain": [-0.4, 0.6], "nice": false, "zero": false}, "axis": {"orient": "left", "values": [-0.4, 0.6], "grid": true, "gridColor": "#c0c0c0", "gridWidth": 1.3, "labels": false, "ticks": false, "domain": false, "title": null}}, "y2": {"datum": -1.1}}},
{"mark": {"type": "line", "strokeWidth": 1.3},
"encoding": {
"x": {"field": "year", "type": "quantitative", "scale": {"domain": [2001.5, 2020.5], "nice": false, "zero": false}, "axis": {"orient": "bottom", "values": [2002, 2005, 2008, 2011, 2014, 2017, 2020], "labelExpr": "datum.value + ''", "ticks": false, "tickSize": 0, "domain": false, "grid": false, "labelPadding": 15, "title": null, "labelFlush": false, "labelOverlap": false}},
"y": {"field": "value", "type": "quantitative", "scale": {"domain": [-0.4, 0.6], "nice": false, "zero": false}, "axis": {"orient": "left", "values": [-0.4, -0.2, 0, 0.2, 0.4, 0.6], "labelExpr": "datum.value + ''", "domain": true, "domainColor": "#000", "domainWidth": 1.3, "ticks": true, "tickColor": "#000", "tickWidth": 1.3, "tickSize": 5, "grid": false, "labelPadding": 6, "title": null}},
"color": {"field": "country", "type": "nominal", "scale": {"domain": ["Hong Kong", "China", "Japan", "Singapore"], "range": ["#333399", "#00a651", "#ff2b2b", "#9c2b27"]},
"legend": {"orient": "none", "legendX": 49, "legendY": 222.55, "title": null, "columns": 2}}
}},
{"mark": {"type": "point", "filled": true, "opacity": 1, "size": 97},
"encoding": {
"x": {"field": "year", "type": "quantitative", "scale": {"domain": [2001.5, 2020.5], "nice": false, "zero": false}, "axis": {"orient": "bottom", "offset": -66.8, "values": [2001.5, 2002.5, 2003.5, 2004.5, 2005.5, 2006.5, 2007.5, 2008.5, 2009.5, 2010.5, 2011.5, 2012.5, 2013.5, 2014.5, 2015.5, 2016.5, 2017.5, 2018.5, 2019.5, 2020.5], "labels": false, "ticks": true, "tickSize": 4, "tickColor": "#000", "tickWidth": 1.2, "domain": true, "domainColor": "#000", "domainWidth": 1.3, "grid": false, "title": null}},
"y": {"field": "value", "type": "quantitative", "scale": {"domain": [-0.4, 0.6], "nice": false, "zero": false}, "axis": {"orient": "left", "values": [-0.2, 0, 0.2, 0.4], "grid": true, "gridColor": "#000", "gridWidth": 1.3, "labels": false, "ticks": false, "domain": false, "title": null}},
"color": {"field": "country", "type": "nominal", "scale": {"domain": ["Hong Kong", "China", "Japan", "Singapore"], "range": ["#333399", "#00a651", "#ff2b2b", "#9c2b27"]}},
"shape": {"field": "country", "type": "nominal", "scale": {"domain": ["Hong Kong", "China", "Japan", "Singapore"], "range": ["M0,-0.9L0.9,0L0,0.9L-0.9,0Z", "M0,-0.9L0.95,0.75L-0.95,0.75Z", "M-0.601,0.813L0,0.212L0.601,0.813L0.813,0.601L0.212,0L0.813,-0.601L0.601,-0.813L0,-0.212L-0.601,-0.813L-0.813,-0.601L-0.212,0L-0.813,0.601Z", "M0.72,0A0.72,0.72,0,1,1,-0.72,0A0.72,0.72,0,1,1,0.72,0Z"]}, "legend": null}
}}
]
}
]
}
]
}
]
}
